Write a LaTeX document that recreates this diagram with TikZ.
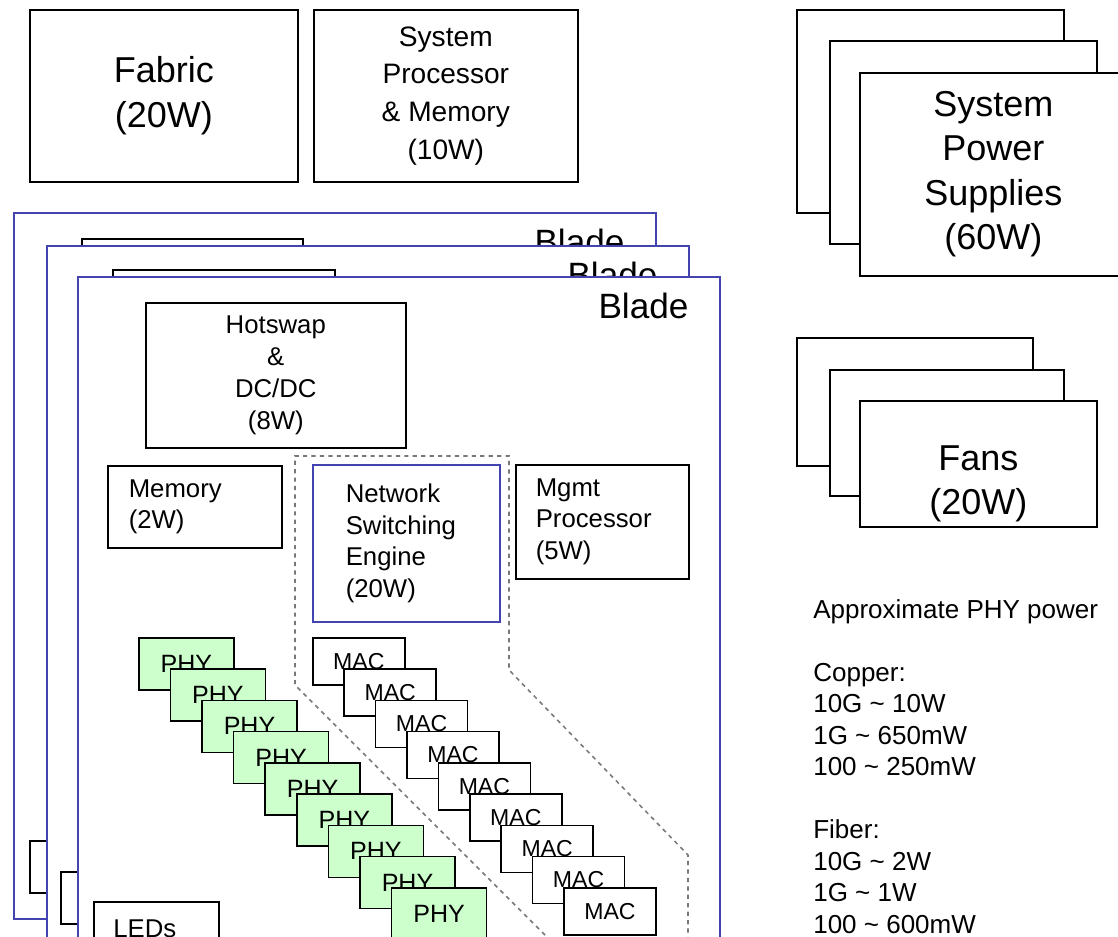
\documentclass[tikz,border=0pt]{standalone}
\usepackage{fontspec}
\setmainfont{Liberation Sans}
\usetikzlibrary{positioning,calc}
\definecolor{bladeblue}{RGB}{68,68,176}
\definecolor{phygreen}{RGB}{204,255,204}
\definecolor{zonegray}{RGB}{120,120,120}

\begin{document}
\begin{tikzpicture}[x=0.025cm, y=-0.025cm,
    every node/.style={font=\fontsize{18.3}{22.6}\selectfont},
    box/.style={draw=black, line width=1.1pt, rectangle, fill=white,
                inner sep=0pt, align=center, anchor=north west},
    bigbox/.style={box, font=\fontsize{25.6}{31.5}\selectfont},
    blade/.style={draw=bladeblue, line width=1.1pt, rectangle, fill=white,
                inner sep=0pt, anchor=north west, minimum width=16.05cm},
    bladetag/.style={font=\fontsize{25}{29}\selectfont, anchor=base east, inner sep=0pt},
    leftbox/.style={box, align=left, inner ysep=0pt},
    phybox/.style={box, fill=phygreen, minimum width=2.375cm, minimum height=1.3cm,
                font=\fontsize{17.8}{20}\selectfont},
    macbox/.style={box, minimum width=2.3cm, minimum height=1.175cm,
                font=\fontsize{16.4}{19}\selectfont},
    zone/.style={draw=zonegray, line width=1.1pt, dash pattern=on 3pt off 3pt},
    notes/.style={align=left, anchor=north west, inner sep=0pt,
                font=\fontsize{18.5}{22.4}\selectfont}
]
  \useasboundingbox (0,0) rectangle (1118,937);
  \clip (0,0) rectangle (1118,937);

  % --- System level boxes ---
  \node[bigbox, minimum width=6.7cm, minimum height=4.3cm] (fabric) at (29,9) {Fabric\\(20W)};
  \node[box, minimum width=6.6cm, minimum height=4.3cm, font=\fontsize{20}{26.8}\selectfont]
    (sysproc) at (313,9) {System\\Processor\\\& Memory\\(10W)};

  % --- Power supplies (stacked) ---
  \node[box, minimum width=6.675cm, minimum height=5.075cm] (psA) at (796,9) {};
  \node[box, minimum width=6.675cm, minimum height=5.075cm] (psB) at (829,40) {};
  \node[bigbox, minimum width=6.675cm, minimum height=5.075cm] (psC) at (859,72)
    {System\\Power\\Supplies\\(60W)};

  % --- Fans (stacked) ---
  \node[box, minimum width=5.9cm, minimum height=3.2cm] (fanA) at (796,337) {};
  \node[box, minimum width=5.85cm, minimum height=3.15cm] (fanB) at (829,369) {};
  \node[box, minimum width=5.925cm, minimum height=3.15cm] (fanC) at (859,400) {};
  \node[font=\fontsize{25.6}{31.5}\selectfont, align=center, inner sep=0pt]
    (fanlbl) at ($(fanC.center)+(0,20)$) {Fans\\(20W)};

  % --- Back blades ---
  \node[blade, minimum height=17.65cm] (bladeA) at (13,212) {};
  \node[bladetag] (tagA) at ($(bladeA.north east)+(-32,43)$) {Blade};
  \node[box, minimum width=5.525cm, minimum height=1.5cm] (tabA) at (81,238) {};
  \node[box, minimum width=3.125cm, minimum height=1.3cm] (ledA) at (29,840) {};

  \node[blade, minimum height=18cm] (bladeB) at (46,245) {};
  \node[bladetag] (tagB) at ($(bladeB.north east)+(-32,43)$) {Blade};
  \node[box, minimum width=5.55cm, minimum height=1.5cm] (tabB) at (112,269) {};
  \node[box, minimum width=3.125cm, minimum height=1.3cm] (ledB) at (60,871) {};

  % --- Front blade ---
  \node[blade, minimum height=18cm] (bladeC) at (77,276) {};
  \node[bladetag] (tagC) at ($(bladeC.north east)+(-32,43)$) {Blade};

  \node[box, minimum width=6.5cm, minimum height=3.625cm] (hotswap) at (145,302)
    {Hotswap\\\&\\DC/DC\\(8W)};
  \node[leftbox, text width=3.3cm, inner xsep=0.525cm, minimum height=2.05cm]
    (memory) at (107,465) {Memory\\(2W)};
  \node[leftbox, draw=bladeblue, text width=3.025cm, inner xsep=0.825cm, minimum height=3.925cm]
    (nse) at (312,464) {Network\\Switching\\Engine\\(20W)};
  \node[leftbox, text width=3.325cm, inner xsep=0.5cm, minimum height=2.85cm]
    (mgmt) at (515,464) {Mgmt\\Processor\\(5W)};

  % --- Switching zone outline ---
  \draw[zone] (551,941) -- (295,685) -- (295,456) -- (509,456) -- (509,670)
    -- (688,855) -- (688,941);

  % --- PHY and MAC stacks ---
  \foreach \i in {0,...,8} {
    \node[phybox] (phy\i) at ({138+31.6*\i},{637+31.25*\i}) {PHY};
    \node[macbox] (mac\i) at ({312+31.4*\i},{637+31.25*\i}) {MAC};
  }

  \node[box, minimum width=3.125cm, minimum height=2cm] (ledC) at (93,901) {};
  \node[anchor=north west, inner sep=0pt] (ledtxt) at (113,920) {LEDs};

  % --- PHY power notes ---
  \node[notes] (phynotes) at (813,599) {%
    Approximate PHY power\\[22.4pt]
    Copper:\\
    10G \textasciitilde{} 10W\\
    1G \textasciitilde{} 650mW\\
    100 \textasciitilde{} 250mW\\[22.4pt]
    Fiber:\\
    10G \textasciitilde{} 2W\\
    1G \textasciitilde{} 1W\\
    100 \textasciitilde{} 600mW};
\end{tikzpicture}
\end{document}
